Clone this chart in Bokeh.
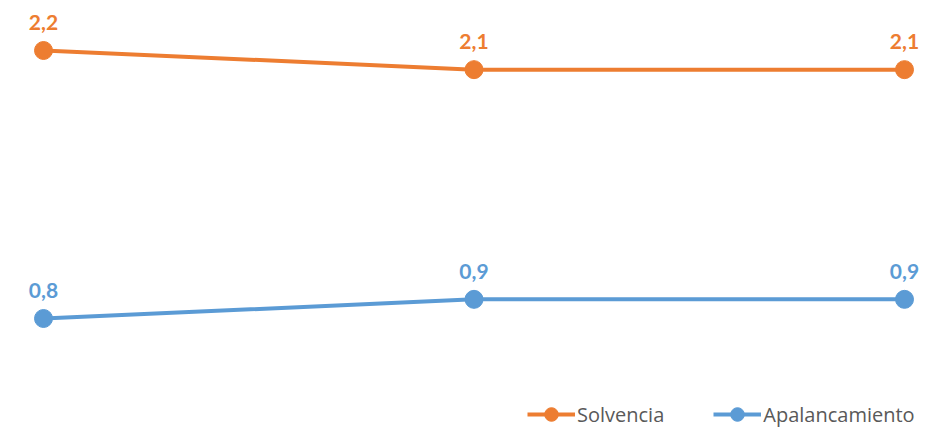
from bokeh.plotting import figure
from bokeh.models import ColumnDataSource, Range1d, Legend, LegendItem
from bokeh.core.properties import value
from bokeh.embed import file_html
from bokeh.resources import INLINE

periods = [0, 1, 2]
solvencia = [2.2, 2.1, 2.1]
apalancamiento = [0.8, 0.9, 0.9]
series_names = ["Solvencia", "Apalancamiento"]
colors = ["#ED7D31", "#5B9BD5"]

W, H = 939, 431
p = figure(width=W, height=H, output_backend="svg", toolbar_location=None,
           x_range=Range1d(-0.0999, 2.0813), y_range=Range1d(0.2097, 2.4612),
           min_border=0, outline_line_color=None)
p.xaxis.visible = False
p.yaxis.visible = False
p.xgrid.visible = False
p.ygrid.visible = False
p.background_fill_color = "white"
p.border_fill_color = "white"

items = []
for name, vals, col in zip(series_names, [solvencia, apalancamiento], colors):
    src = ColumnDataSource(dict(x=periods, y=vals,
                                lab=[f"{v:.1f}".replace(".", ",") for v in vals]))
    ln = p.line("x", "y", source=src, line_color=col, line_width=4)
    sc = p.scatter("x", "y", source=src, size=18, fill_color=col, line_color=col)
    p.text("x", "y", text="lab", source=src, text_color=col,
           text_font=value("Lato"), text_font_style="bold", text_font_size="21px",
           text_align="center", text_baseline="alphabetic", y_offset=-28)
    items.append(LegendItem(label=name, renderers=[ln, sc]))

legend = Legend(items=items, orientation="horizontal", location=(527, 0),
                label_text_font="Open Sans", label_text_font_size="20px",
                label_text_color="#595959", glyph_width=48, glyph_height=34,
                label_height=34, label_standoff=2, spacing=49, padding=0, margin=0,
                border_line_color=None, background_fill_alpha=0)
p.add_layout(legend, "center")

open("out.html", "w").write(file_html(p, INLINE))
